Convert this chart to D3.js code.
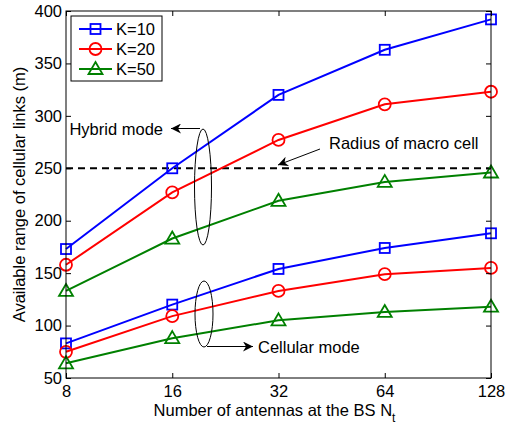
<!DOCTYPE html>
<html>
<head>
<meta charset="utf-8">
<script src="https://cdn.jsdelivr.net/npm/d3@7"></script>
<style>
  body { margin: 0; background: #fff; }
  text { font-family: Arial, "Liberation Sans", sans-serif; }
</style>
</head>
<body>
<script>
// antennas at the BS
var antennas = [8, 16, 32, 64, 128];
var yTicks = [50, 100, 150, 200, 250, 300, 350, 400];

// hybrid mode curves
var hybridK10 = [173, 250, 320, 363, 392];
var hybridK20 = [158, 227, 277, 311, 323];
var hybridK50 = [133, 183, 219, 237, 246];

// cellular mode curves
var cellK10 = [83, 120, 154, 174, 188];
var cellK20 = [75, 109, 133, 149, 155];
var cellK50 = [64, 88, 105, 113, 118];

var macroRadius = 250;

var series = [
  {name: "K=10", color: "#0000ff", marker: "square", hybrid: hybridK10, cell: cellK10},
  {name: "K=20", color: "#ff0000", marker: "circle", hybrid: hybridK20, cell: cellK20},
  {name: "K=50", color: "#008000", marker: "triangle", hybrid: hybridK50, cell: cellK50}
];

var fs = 16.5;

var margin = {top: 11, right: 24, bottom: 52, left: 66},
    width = 515 - margin.left - margin.right,
    height = 430 - margin.top - margin.bottom;

var xScale = d3.scaleLog().base(2).domain([8, 128]).range([0, width]);
var yScale = d3.scaleLinear().domain([50, 400]).range([height, 0]);

var svg = d3.select("body").append("svg")
    .attr("width", 515)
    .attr("height", 430)
  .append("g")
    .attr("transform", "translate(" + margin.left + "," + margin.top + ")");

var line = d3.line()
    .x(function(d, i) { return xScale(antennas[i]); })
    .y(function(d) { return yScale(d); });

// dashed line for macro cell radius
svg.append("line")
    .attr("x1", 0).attr("x2", width)
    .attr("y1", yScale(macroRadius)).attr("y2", yScale(macroRadius))
    .attr("stroke", "black")
    .attr("stroke-width", 2)
    .attr("stroke-dasharray", "7,5");

var drawMarker = function(g, type, color) {
  if (type == "square") {
    g.append("rect").attr("x", -5).attr("y", -5).attr("width", 10).attr("height", 10)
      .attr("fill", "none").attr("stroke", color).attr("stroke-width", 1.8);
  } else if (type == "circle") {
    g.append("circle").attr("r", 6)
      .attr("fill", "none").attr("stroke", color).attr("stroke-width", 1.8);
  } else {
    g.append("path").attr("d", "M0,-7L7,5L-7,5Z")
      .attr("fill", "none").attr("stroke", color).attr("stroke-width", 1.8);
  }
};

series.forEach(function(s) {
  [s.hybrid, s.cell].forEach(function(vals) {
    svg.append("path")
        .datum(vals)
        .attr("d", line)
        .attr("fill", "none")
        .attr("stroke", s.color)
        .attr("stroke-width", 2);
    vals.forEach(function(v, i) {
      var m = svg.append("g")
          .attr("transform", "translate(" + xScale(antennas[i]) + "," + yScale(v) + ")");
      drawMarker(m, s.marker, s.color);
    });
  });
});

// axes, ticks inward on all four sides
var fmt = d3.format("d");
var xb = svg.append("g").attr("transform", "translate(0," + height + ")")
    .call(d3.axisBottom(xScale).tickValues(antennas).tickFormat(fmt).tickSizeInner(-5).tickSizeOuter(0).tickPadding(7));
var xt = svg.append("g")
    .call(d3.axisTop(xScale).tickValues(antennas).tickFormat("").tickSizeInner(-5).tickSizeOuter(0));
var yl = svg.append("g")
    .call(d3.axisLeft(yScale).tickValues(yTicks).tickFormat(fmt).tickSizeInner(-5).tickSizeOuter(0).tickPadding(4));
var yr = svg.append("g").attr("transform", "translate(" + width + ",0)")
    .call(d3.axisRight(yScale).tickValues(yTicks).tickFormat("").tickSizeInner(-5).tickSizeOuter(0));

[xb, xt, yl, yr].forEach(function(a) {
  a.select(".domain").remove();
  a.selectAll("line").attr("stroke", "black");
  a.selectAll("text").attr("font-size", fs).attr("fill", "black")
    .style("font-family", "Arial, 'Liberation Sans', sans-serif");
});

svg.append("rect")
    .attr("width", width).attr("height", height)
    .attr("fill", "none").attr("stroke", "black").attr("stroke-width", 1);

// axis labels
var xl = svg.append("text")
    .attr("x", width / 2 - 4).attr("y", height + 38)
    .attr("text-anchor", "middle")
    .attr("font-size", fs);
xl.append("tspan").text("Number of antennas at the BS N");
xl.append("tspan").attr("font-size", 12).attr("dy", 6).text("t");

svg.append("text")
    .attr("transform", "translate(-41," + height / 2 + ") rotate(-90)")
    .attr("text-anchor", "middle")
    .attr("font-size", fs)
    .text("Available range of cellular links (m)");

// annotations
var defs = d3.select("svg").append("defs");
defs.append("marker")
    .attr("id", "arrow")
    .attr("viewBox", "0 0 10 10")
    .attr("refX", 10).attr("refY", 5)
    .attr("markerWidth", 10).attr("markerHeight", 10)
    .attr("markerUnits", "userSpaceOnUse")
    .attr("orient", "auto")
  .append("path")
    .attr("d", "M0,0L10,5L0,10L3,5Z")
    .attr("fill", "black");

var ann = d3.select("svg").append("g");

// hybrid mode group
ann.append("ellipse")
    .attr("cx", 203).attr("cy", 187).attr("rx", 8.5).attr("ry", 58)
    .attr("fill", "none").attr("stroke", "black").attr("stroke-width", 1);
ann.append("line")
    .attr("x1", 200).attr("y1", 128.5).attr("x2", 171).attr("y2", 128.5)
    .attr("stroke", "black").attr("stroke-width", 1).attr("marker-end", "url(#arrow)");
ann.append("text")
    .attr("x", 163).attr("y", 134.5).attr("text-anchor", "end")
    .attr("font-size", fs).text("Hybrid mode");

// cellular mode group
ann.append("ellipse")
    .attr("cx", 204).attr("cy", 314).attr("rx", 9).attr("ry", 33)
    .attr("fill", "none").attr("stroke", "black").attr("stroke-width", 1);
ann.append("line")
    .attr("x1", 207).attr("y1", 346.5).attr("x2", 253).attr("y2", 346.5)
    .attr("stroke", "black").attr("stroke-width", 1).attr("marker-end", "url(#arrow)");
ann.append("text")
    .attr("x", 258).attr("y", 352.5).attr("font-size", fs).text("Cellular mode");

// macro cell radius
ann.append("line")
    .attr("x1", 320).attr("y1", 149).attr("x2", 278).attr("y2", 165)
    .attr("stroke", "black").attr("stroke-width", 1).attr("marker-end", "url(#arrow)");
ann.append("text")
    .attr("x", 329).attr("y", 149).attr("font-size", fs).text("Radius of macro cell");

// legend
var legend = d3.select("svg").append("g").attr("transform", "translate(71,16)");
legend.append("rect")
    .attr("width", 91).attr("height", 65)
    .attr("fill", "white").attr("stroke", "black").attr("stroke-width", 1);
series.forEach(function(s, i) {
  var ly = 13 + i * 20;
  legend.append("line")
      .attr("x1", 8).attr("x2", 41).attr("y1", ly).attr("y2", ly)
      .attr("stroke", s.color).attr("stroke-width", 2);
  var m = legend.append("g").attr("transform", "translate(24.5," + ly + ")");
  drawMarker(m, s.marker, s.color);
  legend.append("text")
      .attr("x", 45).attr("y", ly + 6)
      .attr("font-size", fs).text(s.name);
});
</script>
</body>
</html>
